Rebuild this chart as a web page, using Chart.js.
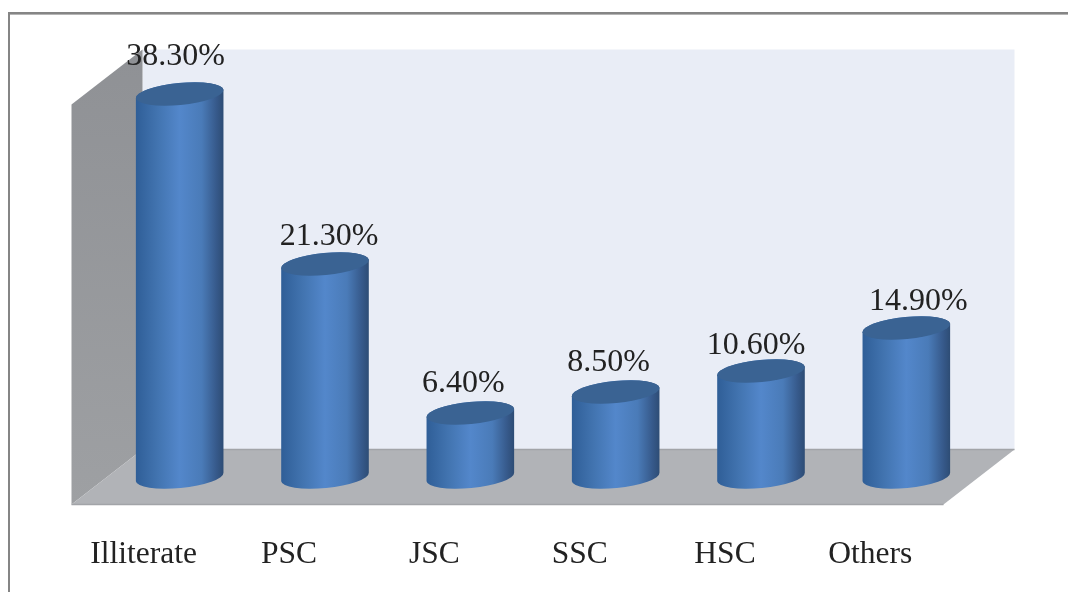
<!DOCTYPE html>
<html>
<head>
<meta charset="utf-8">
<title>Education level</title>
<script src="https://cdn.jsdelivr.net/npm/chart.js@4"></script>
<style>
    html, body { margin: 0; padding: 0; background: #fff; }
    canvas { display: block; }
</style>
</head>
<body>
<canvas id="educationChart" width="1068" height="592"></canvas>
<script>
const categories = ["Illiterate", "PSC", "JSC", "SSC", "HSC", "Others"];
const percents = [38.3, 21.3, 6.4, 8.5, 10.6, 14.9];

// label nudges, the value labels don't sit exactly over the cylinders
const labelDx = [-4, 4, -7, -7, -5, 12];
const labelDy = [-37, -27, -29, -29, -25, -26];

const DEPTH_X = 35.5;
const DEPTH_Y = 27.5;
const TILT = -5.5 * Math.PI / 180;
const CAP_RADIUS_Y = 11;

// ---------------------------------------------
// Outer frame and the fake 3D walls
// ---------------------------------------------
const wallsPlugin = {
    id: "walls",
    beforeDatasetsDraw(chart) {
        const ctx = chart.ctx;
        const left = chart.chartArea.left;
        const right = chart.chartArea.right;
        const top = chart.scales.y.getPixelForValue(40);
        const base = chart.scales.y.getPixelForValue(0);

        ctx.save();

        // frame is open on the right and at the bottom
        ctx.fillStyle = "#b5b5b5";
        ctx.fillRect(10, 14, 1058, 1);
        ctx.fillStyle = "#858585";
        ctx.fillRect(8, 12, 1060, 2);
        ctx.fillRect(8, 12, 2, 580);

        // back wall
        ctx.fillStyle = "#e9edf6";
        ctx.fillRect(left + DEPTH_X, top - DEPTH_Y, right - left, base - top);

        // left wall
        const wallShade = ctx.createLinearGradient(0, top - DEPTH_Y, 0, base + DEPTH_Y);
        wallShade.addColorStop(0, "#8f9195");
        wallShade.addColorStop(1, "#9ea0a3");
        ctx.fillStyle = wallShade;
        ctx.beginPath();
        ctx.moveTo(left - DEPTH_X, top + DEPTH_Y);
        ctx.lineTo(left + DEPTH_X, top - DEPTH_Y);
        ctx.lineTo(left + DEPTH_X, base - DEPTH_Y);
        ctx.lineTo(left - DEPTH_X, base + DEPTH_Y);
        ctx.closePath();
        ctx.fill();

        // floor
        ctx.fillStyle = "#b1b3b7";
        ctx.beginPath();
        ctx.moveTo(left - DEPTH_X, base + DEPTH_Y);
        ctx.lineTo(left + DEPTH_X, base - DEPTH_Y);
        ctx.lineTo(right + DEPTH_X, base - DEPTH_Y);
        ctx.lineTo(right - DEPTH_X, base + DEPTH_Y);
        ctx.closePath();
        ctx.fill();

        ctx.strokeStyle = "#a2a4a8";
        ctx.lineWidth = 1.5;
        ctx.beginPath();
        ctx.moveTo(left + DEPTH_X, base - DEPTH_Y);
        ctx.lineTo(right + DEPTH_X, base - DEPTH_Y);
        ctx.moveTo(left - DEPTH_X, base + DEPTH_Y);
        ctx.lineTo(right - DEPTH_X, base + DEPTH_Y);
        ctx.stroke();

        ctx.restore();
    }
};

// ---------------------------------------------
// Cylinders and value labels, placed from the bar elements
// ---------------------------------------------
const cylinderPlugin = {
    id: "cylinders",
    afterDatasetsDraw(chart) {
        const ctx = chart.ctx;
        const bars = chart.getDatasetMeta(0).data;

        bars.forEach((bar, i) => {
            const radius = bar.width / 2;

            const shade = ctx.createLinearGradient(bar.x - radius, 0, bar.x + radius, 0);
            shade.addColorStop(0, "#2f5e97");
            shade.addColorStop(0.25, "#4274b0");
            shade.addColorStop(0.5, "#5387cb");
            shade.addColorStop(0.75, "#4a7bb8");
            shade.addColorStop(0.92, "#36598a");
            shade.addColorStop(1, "#2d4c74");

            ctx.save();
            ctx.fillStyle = shade;
            ctx.beginPath();
            ctx.ellipse(bar.x, bar.base, radius, CAP_RADIUS_Y, TILT, 0, Math.PI);
            ctx.ellipse(bar.x, bar.y, radius, CAP_RADIUS_Y, TILT, Math.PI, Math.PI * 2);
            ctx.closePath();
            ctx.fill();

            ctx.fillStyle = "#3a6393";
            ctx.beginPath();
            ctx.ellipse(bar.x, bar.y, radius, CAP_RADIUS_Y, TILT, 0, Math.PI * 2);
            ctx.fill();

            ctx.fillStyle = "#222";
            ctx.font = "32px 'Liberation Serif'";
            ctx.textAlign = "center";
            ctx.textBaseline = "middle";
            ctx.fillText(percents[i].toFixed(2) + "%", bar.x + labelDx[i], bar.y + labelDy[i]);
            ctx.restore();
        });
    }
};

new Chart(document.getElementById("educationChart"), {
    type: "bar",
    data: {
        labels: categories,
        datasets: [{
            data: percents,
            backgroundColor: "rgba(0, 0, 0, 0)",
            barThickness: 88
        }]
    },
    options: {
        responsive: false,
        animation: false,
        layout: {
            padding: { left: 107, right: 89, top: 77, bottom: 0 }
        },
        plugins: {
            legend: { display: false },
            tooltip: { enabled: false }
        },
        scales: {
            x: {
                grid: { display: false },
                border: { display: false },
                afterFit(scale) {
                    scale.height = 115;
                },
                ticks: {
                    color: "#222",
                    font: { family: "'Liberation Serif'", size: 31.5 },
                    labelOffset: -36,
                    padding: 51,
                    maxRotation: 0
                }
            },
            y: {
                display: false,
                min: 0,
                max: 40
            }
        }
    },
    plugins: [wallsPlugin, cylinderPlugin]
});
</script>
</body>
</html>
